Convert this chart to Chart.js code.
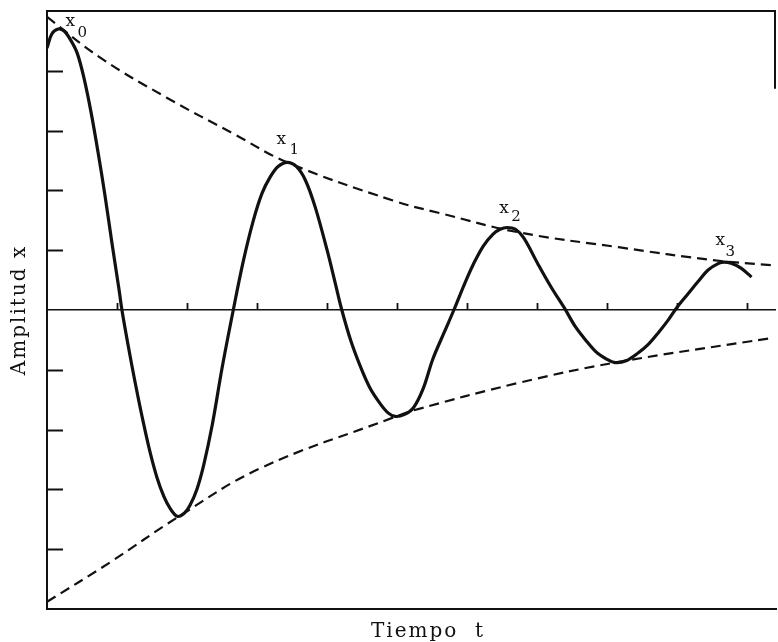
<!DOCTYPE html>
<html>
<head>
<meta charset="utf-8">
<script src="https://cdn.jsdelivr.net/npm/chart.js@4.4.1/dist/chart.umd.min.js"></script>
<style>
  html, body { margin: 0; padding: 0; background: #ffffff; }
  #wrap { width: 778px; height: 642px; }
</style>
</head>
<body>
<div id="wrap"><canvas id="c" width="778" height="642"></canvas></div>
<script>
// Damped oscillation: displacement x against time t, with its decaying envelopes.
const curveT = [
  0.00, 0.07, 0.16, 0.24, 0.33, 0.43, 0.53, 0.63, 0.73, 0.83, 0.93, 1.03, 1.07,
  1.16, 1.26, 1.37, 1.47, 1.57, 1.67, 1.76, 1.86,
  1.96, 2.04, 2.14, 2.24, 2.36, 2.50, 2.66, 2.80, 2.94, 3.07, 3.19, 3.30, 3.43,
  3.56, 3.69, 3.83, 4.00, 4.11, 4.21, 4.34, 4.47, 4.61, 4.76, 4.87, 4.97,
  5.10, 5.23, 5.37, 5.51, 5.67, 5.81, 5.96, 6.09, 6.23, 6.37, 6.47, 6.57,
  6.69, 6.81, 7.01, 7.20, 7.39, 7.54, 7.69, 7.84, 7.99, 8.11,
  8.27, 8.44, 8.59, 8.73, 8.87, 9.00, 9.16, 9.30, 9.44, 9.59, 9.67, 9.77, 9.91, 10.06
];
const curveX = [
  4.38, 4.62, 4.70, 4.67, 4.53, 4.30, 3.87, 3.30, 2.63, 1.90, 1.10, 0.33, 0.00,
  -0.60, -1.22, -1.85, -2.37, -2.80, -3.12, -3.32, -3.45,
  -3.40, -3.27, -3.00, -2.58, -1.92, -0.97, 0.00, 0.80, 1.47, 1.95, 2.23, 2.40, 2.47,
  2.40, 2.17, 1.72, 1.00, 0.48, 0.00, -0.52, -0.93, -1.30, -1.57, -1.72, -1.78,
  -1.75, -1.64, -1.32, -0.82, -0.38, 0.00, 0.43, 0.77, 1.07, 1.27, 1.35, 1.38,
  1.35, 1.20, 0.77, 0.38, 0.03, -0.27, -0.50, -0.70, -0.82, -0.88,
  -0.85, -0.72, -0.57, -0.38, -0.17, 0.05, 0.28, 0.48, 0.67, 0.78, 0.80, 0.78, 0.70, 0.55
];

const upperT = [0, 0.76, 1.71, 2.66, 3.43, 4.94, 5.61, 6.73, 8.16, 9.54, 10.34];
const upperX = [4.90, 4.22, 3.55, 2.95, 2.47, 1.83, 1.62, 1.30, 1.05, 0.83, 0.75];

const lowerT = [0, 0.90, 1.86, 3.04, 4.94, 5.23, 6.73, 8.11, 10.34];
const lowerX = [-4.88, -4.22, -3.47, -2.65, -1.80, -1.68, -1.22, -0.88, -0.47];

// Successive maxima x0, x1, x2, x3
const peakNames = ['0', '1', '2', '3'];
const peakT = [0.16, 3.43, 6.57, 9.67];
const peakX = [4.70, 2.47, 1.38, 0.80];

const timeTicks = [1, 2, 3, 4, 5, 6, 7, 8, 9, 10];
const ampTicks = [-4, -3, -2, -1, 1, 2, 3, 4];

const xTitle = 'Tiempo  t';
const yTitle = 'Amplitud x';

const INK = '#111111';
const SERIF = '"DejaVu Serif", "Liberation Serif", serif';

const pts = (ts, vs) => ts.map((t, i) => ({ x: t, y: vs[i] }));

// Frame, inward ticks on the amplitude axis and small marks along t axis
const framePlugin = {
  id: 'frame',
  beforeDatasetsDraw(chart) {
    const { ctx, chartArea: a, scales: { x, y } } = chart;
    ctx.save();
    ctx.strokeStyle = INK;
    ctx.lineCap = 'butt';
    // top edge
    ctx.lineWidth = 2;
    ctx.beginPath();
    ctx.moveTo(a.left, a.top);
    ctx.lineTo(a.right, a.top);
    ctx.stroke();
    // short right edge
    ctx.beginPath();
    ctx.moveTo(a.right - 1, a.top);
    ctx.lineTo(a.right - 1, y.getPixelForValue(3.7));
    ctx.stroke();
    // amplitude ticks pointing inward
    ctx.lineWidth = 2;
    ampTicks.forEach(v => {
      const py = Math.round(y.getPixelForValue(v)) + 0.5;
      ctx.beginPath();
      ctx.moveTo(a.left, py);
      ctx.lineTo(a.left + 16, py);
      ctx.stroke();
    });
    // time marks standing on the zero line
    const y0 = y.getPixelForValue(0);
    ctx.lineWidth = 1.8;
    timeTicks.forEach(t => {
      const px = Math.round(x.getPixelForValue(t)) + 0.5;
      ctx.beginPath();
      ctx.moveTo(px, y0);
      ctx.lineTo(px, y0 - 7);
      ctx.stroke();
    });
    ctx.restore();
  }
};

// x0..x3 labels beside each maximum
const peakLabelPlugin = {
  id: 'peakLabels',
  afterDatasetsDraw(chart) {
    const { ctx, scales: { x, y } } = chart;
    const offs = [
      { lx: 12, ly: -6, dx: 24, dy: 4 },
      { lx: -6, ly: -22, dx: 7, dy: -12 },
      { lx: -3, ly: -18, dx: 9, dy: -10 },
      { lx: -4, ly: -21, dx: 6, dy: -10 }
    ];
    ctx.save();
    ctx.fillStyle = INK;
    ctx.textAlign = 'center';
    ctx.textBaseline = 'middle';
    peakNames.forEach((n, i) => {
      const px = x.getPixelForValue(peakT[i]);
      const py = y.getPixelForValue(peakX[i]);
      const o = offs[i];
      ctx.font = '17px ' + SERIF;
      ctx.fillText('x', px + o.lx, py + o.ly - 1);
      ctx.font = '15px ' + SERIF;
      ctx.fillText(n, px + o.dx, py + o.dy);
    });
    ctx.restore();
  }
};

// Axis titles in a widely spaced serif face
const titlePlugin = {
  id: 'axisTitles',
  afterDraw(chart) {
    const { ctx } = chart;
    ctx.save();
    ctx.fillStyle = INK;
    ctx.font = '20px ' + SERIF;
    ctx.letterSpacing = '2px';
    ctx.textAlign = 'center';
    ctx.textBaseline = 'alphabetic';
    ctx.fillText(xTitle, 428, 637);
    ctx.translate(25, 310);
    ctx.rotate(-Math.PI / 2);
    ctx.fillText(yTitle, 0, 0);
    ctx.restore();
  }
};

new Chart(document.getElementById('c'), {
  type: 'line',
  data: {
    datasets: [
      {
        label: 'x(t)',
        data: pts(curveT, curveX),
        borderColor: INK,
        borderWidth: 3.2,
        pointRadius: 0,
        tension: 0.35,
        fill: false
      },
      {
        label: 'envolvente superior',
        data: pts(upperT, upperX),
        borderColor: INK,
        borderWidth: 2.2,
        borderDash: [10, 6],
        pointRadius: 0,
        tension: 0.4,
        fill: false
      },
      {
        label: 'envolvente inferior',
        data: pts(lowerT, lowerX),
        borderColor: INK,
        borderWidth: 2.2,
        borderDash: [10, 6],
        pointRadius: 0,
        tension: 0.4,
        fill: false
      }
    ]
  },
  options: {
    responsive: false,
    animation: false,
    devicePixelRatio: 1,
    layout: { padding: { left: 47, right: 2, top: 11, bottom: 33 } },
    plugins: { legend: { display: false }, tooltip: { enabled: false } },
    scales: {
      x: {
        type: 'linear',
        min: 0,
        max: 10.41,
        ticks: { display: false },
        grid: { display: false, drawTicks: false },
        border: { display: true, color: INK, width: 2 },
        afterFit(s) { s.height = 0; }
      },
      y: {
        type: 'linear',
        min: -5,
        max: 5,
        ticks: { display: false, stepSize: 1 },
        grid: {
          drawTicks: false,
          lineWidth: 1.6,
          color: c => (c.tick && c.tick.value === 0 ? INK : 'rgba(0,0,0,0)')
        },
        border: { display: true, color: INK, width: 2 },
        afterFit(s) { s.width = 0; }
      }
    }
  },
  plugins: [framePlugin, peakLabelPlugin, titlePlugin]
});
</script>
</body>
</html>
